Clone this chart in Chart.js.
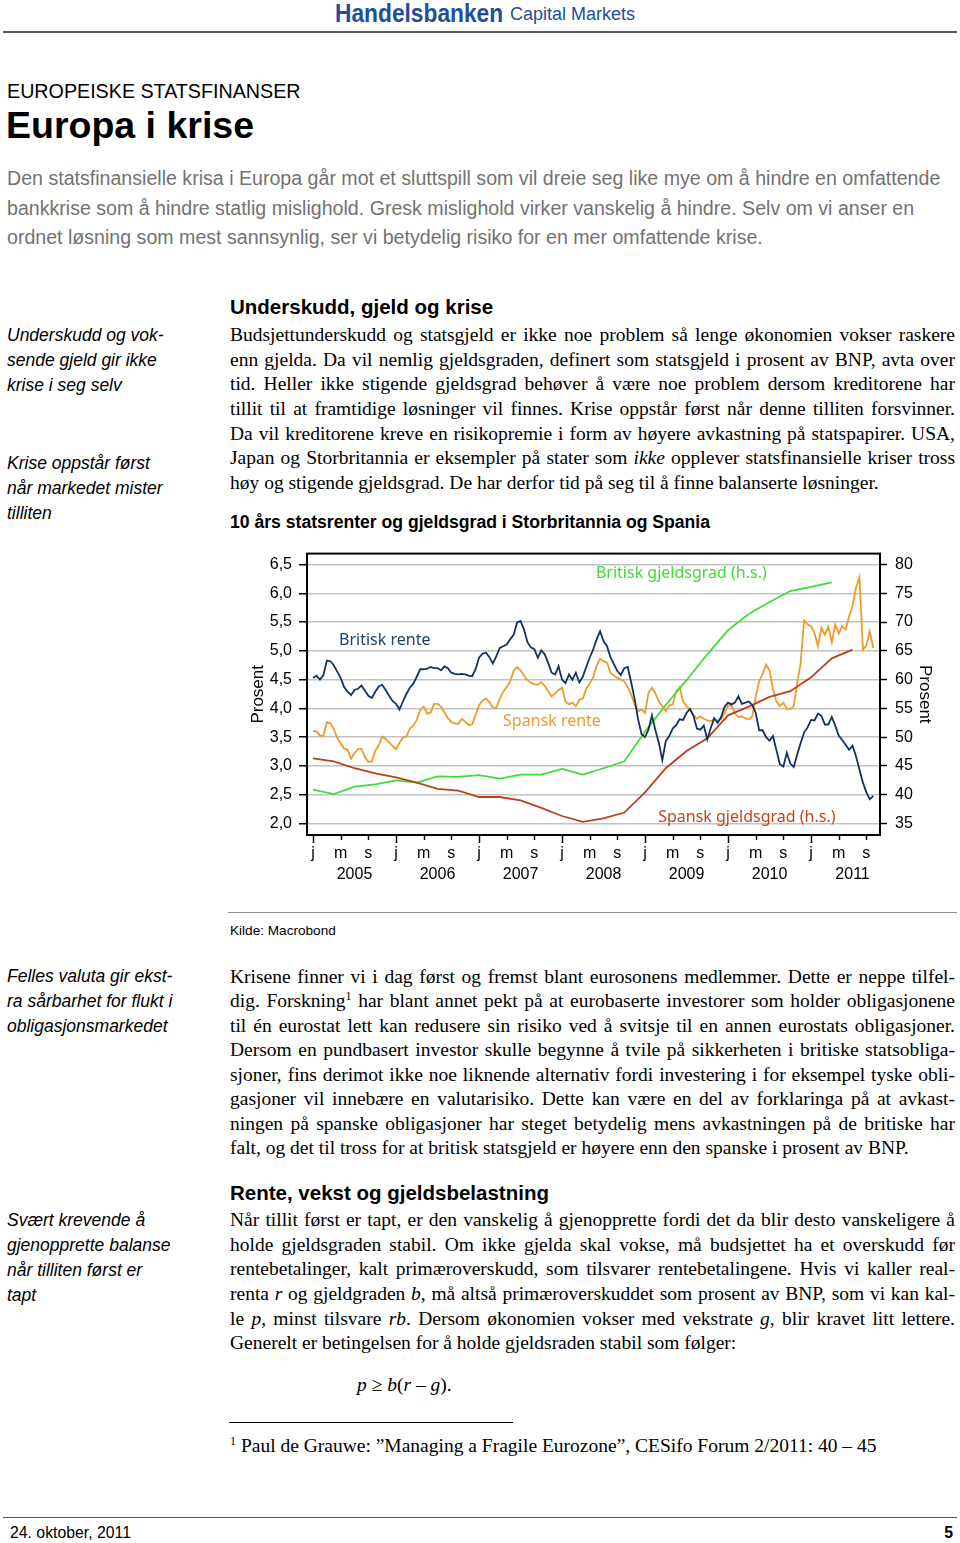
<!DOCTYPE html>
<html lang="no">
<head>
<meta charset="utf-8">
<title>Europa i krise</title>
<script src="https://cdn.jsdelivr.net/npm/chart.js@4.4.1/dist/chart.umd.min.js"></script>
<style>
  body { margin: 0; background: #fff; }
  #side { position: relative; width: 960px; height: 1543px; overflow: hidden; font-family: Arial, "Liberation Sans", sans-serif; color: #000; }
  .t { position: absolute; white-space: nowrap; }
  .strek { position: absolute; height: 0; }
  .linje { position: absolute; left: 230px; width: 725px; white-space: nowrap; font-family: "Times New Roman", "Liberation Serif", serif; font-size: 19.5px; line-height: 24px; height: 24px; text-align: justify; text-align-last: justify; }
  .linje.sist { text-align-last: left; }
  .marg { position: absolute; left: 7px; font-style: italic; font-size: 17.5px; line-height: 25px; white-space: nowrap; }
  .overskrift { position: absolute; left: 230px; font-weight: bold; font-size: 20.5px; line-height: 24px; white-space: nowrap; }
  #grafboks { position: absolute; left: 236px; top: 536px; width: 714px; height: 355px; }
</style>
</head>
<body>
<div id="side">
  <div class="t" style="left:335px;top:0;line-height:26px;color:#1f4e99;font-weight:bold;font-size:25px;transform:scaleX(0.91);transform-origin:left center;">Handelsbanken</div>
  <div class="t" style="left:510px;top:1px;line-height:26px;color:#1f4e99;font-size:18px;">Capital Markets</div>
  <div class="strek" style="left:3px;width:954px;top:31px;border-top:2px solid #5a5a5a;"></div>

  <div class="t" style="left:7px;top:80px;font-size:19.7px;line-height:22px;">EUROPEISKE STATSFINANSER</div>
  <div class="t" style="left:6px;top:104px;font-size:37.5px;line-height:42px;font-weight:bold;">Europa i krise</div>
  <div class="t" style="left:7px;top:164px;font-size:19.6px;line-height:29.5px;color:#727272;">
    Den statsfinansielle krisa i Europa går mot et sluttspill som vil dreie seg like mye om å hindre en omfattende<br>
    bankkrise som å hindre statlig mislighold. Gresk mislighold virker vanskelig å hindre. Selv om vi anser en<br>
    ordnet løsning som mest sannsynlig, ser vi betydelig risiko for en mer omfattende krise.
  </div>

  <div class="marg" style="top:323px;">Underskudd og vok-<br>sende gjeld gir ikke<br>krise i seg selv</div>
  <div class="marg" style="top:451px;">Krise oppstår først<br>når markedet mister<br>tilliten</div>

  <div class="overskrift" style="top:295px;">Underskudd, gjeld og krise</div>
  <div class="linje" style="top:323px;">Budsjettunderskudd og statsgjeld er ikke noe problem så lenge økonomien vokser raskere</div>
  <div class="linje" style="top:348px;">enn gjelda. Da vil nemlig gjeldsgraden, definert som statsgjeld i prosent av BNP, avta over</div>
  <div class="linje" style="top:372px;">tid. Heller ikke stigende gjeldsgrad behøver å være noe problem dersom kreditorene har</div>
  <div class="linje" style="top:397px;">tillit til at framtidige løsninger vil finnes. Krise oppstår først når denne tilliten forsvinner.</div>
  <div class="linje" style="top:422px;">Da vil kreditorene kreve en risikopremie i form av høyere avkastning på statspapirer. USA,</div>
  <div class="linje" style="top:446px;">Japan og Storbritannia er eksempler på stater som <i>ikke</i> opplever statsfinansielle kriser tross</div>
  <div class="linje sist" style="top:471px;">høy og stigende gjeldsgrad. De har derfor tid på seg til å finne balanserte løsninger.</div>

  <div class="t" style="left:230px;top:512px;font-size:17.6px;line-height:20px;font-weight:bold;">10 års statsrenter og gjeldsgrad i Storbritannia og Spania</div>

  <div id="grafboks"><canvas id="graf"></canvas></div>

  <div class="strek" style="left:228px;width:729px;top:912px;border-top:1px solid #8c8c8c;"></div>
  <div class="t" style="left:230px;top:923px;font-size:13.6px;line-height:16px;">Kilde: Macrobond</div>

  <div class="marg" style="top:964px;">Felles valuta gir ekst-<br>ra sårbarhet for flukt i<br>obligasjonsmarkedet</div>
  <div class="linje" style="top:965px;">Krisene finner vi i dag først og fremst blant eurosonens medlemmer. Dette er neppe tilfel-</div>
  <div class="linje" style="top:989px;">dig. Forskning<sup style="font-size:12px;line-height:0;">1</sup> har blant annet pekt på at eurobaserte investorer som holder obligasjonene</div>
  <div class="linje" style="top:1014px;">til én eurostat lett kan redusere sin risiko ved å svitsje til en annen eurostats obligasjoner.</div>
  <div class="linje" style="top:1038px;">Dersom en pundbasert investor skulle begynne å tvile på sikkerheten i britiske statsobliga-</div>
  <div class="linje" style="top:1063px;">sjoner, fins derimot ikke noe liknende alternativ fordi investering i for eksempel tyske obli-</div>
  <div class="linje" style="top:1087px;">gasjoner vil innebære en valutarisiko. Dette kan være en del av forklaringa på at avkast-</div>
  <div class="linje" style="top:1112px;">ningen på spanske obligasjoner har steget betydelig mens avkastningen på de britiske har</div>
  <div class="linje sist" style="top:1136px;">falt, og det til tross for at britisk statsgjeld er høyere enn den spanske i prosent av BNP.</div>

  <div class="overskrift" style="top:1181px;">Rente, vekst og gjeldsbelastning</div>
  <div class="marg" style="top:1208px;">Svært krevende å<br>gjenopprette balanse<br>når tilliten først er<br>tapt</div>
  <div class="linje" style="top:1208px;">Når tillit først er tapt, er den vanskelig å gjenopprette fordi det da blir desto vanskeligere å</div>
  <div class="linje" style="top:1233px;">holde gjeldsgraden stabil. Om ikke gjelda skal vokse, må budsjettet ha et overskudd før</div>
  <div class="linje" style="top:1257px;">rentebetalinger, kalt primæroverskudd, som tilsvarer rentebetalingene. Hvis vi kaller real-</div>
  <div class="linje" style="top:1282px;">renta <i>r</i> og gjeldgraden <i>b</i>, må altså primæroverskuddet som prosent av BNP, som vi kan kal-</div>
  <div class="linje" style="top:1307px;">le <i>p</i>, minst tilsvare <i>rb</i>. Dersom økonomien vokser med vekstrate <i>g</i>, blir kravet litt lettere.</div>
  <div class="linje sist" style="top:1331px;">Generelt er betingelsen for å holde gjeldsraden stabil som følger:</div>

  <div class="t" style="left:357px;top:1373px;font-family:'Times New Roman','Liberation Serif',serif;font-size:19.5px;line-height:24px;"><i>p</i> ≥ <i>b</i>(<i>r</i> – <i>g</i>).</div>

  <div class="strek" style="left:229px;width:284px;top:1422px;border-top:1px solid #000;"></div>
  <div class="t" style="left:230px;top:1434px;font-family:'Times New Roman','Liberation Serif',serif;font-size:19.5px;line-height:24px;"><sup style="font-size:12px;line-height:0;">1</sup> Paul de Grauwe: ”Managing a Fragile Eurozone”, CESifo Forum 2/2011: 40 – 45</div>

  <div class="strek" style="left:3px;width:954px;top:1517px;border-top:1px solid #555;"></div>
  <div class="t" style="left:10px;top:1524px;font-size:15.8px;line-height:18px;">24. oktober, 2011</div>
  <div class="t" style="left:900px;width:53px;text-align:right;top:1524px;font-size:15.8px;line-height:18px;font-weight:bold;">5</div>
</div>

<script>
// Rentene: halvmånedlige avlesninger fra januar 2005 (måned 0) til oktober 2011
const renteSteg = 0.5;
const britiskRente = [
  4.53, 4.57, 4.50, 4.58, 4.83, 4.82, 4.75, 4.64, 4.53, 4.37, 4.29, 4.23, 4.32, 4.34, 4.40, 4.31, 4.22, 4.18, 4.29, 4.38, 4.41, 4.32, 4.22, 4.13,
  4.08, 3.98, 4.12, 4.25, 4.36, 4.43, 4.55, 4.68, 4.68, 4.69, 4.72, 4.70, 4.70, 4.66, 4.73, 4.70, 4.62, 4.60, 4.59, 4.60, 4.59, 4.57, 4.56, 4.68,
  4.88, 4.95, 4.97, 4.89, 4.78, 4.91, 5.05, 5.08, 5.11, 5.20, 5.28, 5.49, 5.52, 5.37, 5.15, 5.06, 5.03, 4.88, 5.01, 4.94, 4.79, 4.62, 4.59, 4.73,
  4.50, 4.44, 4.59, 4.50, 4.62, 4.45, 4.55, 4.72, 4.88, 5.02, 5.20, 5.34, 5.17, 5.08, 4.89, 4.77, 4.65, 4.58, 4.70, 4.72, 4.45, 4.16, 3.81, 3.55,
  3.50, 3.63, 3.88, 3.62, 3.40, 3.10, 3.43, 3.52, 3.65, 3.71, 3.81, 3.80, 3.92, 3.99, 3.87, 3.65, 3.63, 3.70, 3.46, 3.66, 3.83, 3.75, 3.85, 4.03,
  4.10, 4.07, 4.10, 4.21, 4.08, 4.10, 4.12, 4.06, 3.92, 3.62, 3.62, 3.50, 3.44, 3.52, 3.27, 3.03, 2.99, 3.23, 3.04, 2.98, 3.20, 3.40, 3.58, 3.67,
  3.80, 3.79, 3.91, 3.87, 3.72, 3.72, 3.85, 3.70, 3.53, 3.45, 3.37, 3.28, 3.35, 3.17, 2.94, 2.71, 2.54, 2.42, 2.48
];
const spanskRente = [
  3.61, 3.60, 3.53, 3.52, 3.76, 3.74, 3.64, 3.49, 3.39, 3.30, 3.28, 3.13, 3.22, 3.29, 3.30, 3.16, 3.07, 3.08, 3.26, 3.36, 3.51, 3.47, 3.41, 3.35,
  3.29, 3.40, 3.49, 3.51, 3.65, 3.70, 3.80, 3.97, 4.03, 3.91, 3.93, 4.08, 4.08, 4.03, 3.93, 3.83, 3.76, 3.74, 3.73, 3.82, 3.77, 3.71, 3.72, 3.89,
  4.05, 4.14, 4.17, 4.11, 4.01, 4.01, 4.17, 4.29, 4.37, 4.47, 4.65, 4.72, 4.66, 4.57, 4.49, 4.45, 4.42, 4.41, 4.46, 4.39, 4.30, 4.21, 4.26, 4.32,
  4.36, 4.12, 4.07, 4.10, 4.04, 4.15, 4.17, 4.34, 4.43, 4.54, 4.74, 4.86, 4.82, 4.80, 4.62, 4.57, 4.53, 4.50, 4.47, 4.37, 4.24, 4.07, 3.95, 3.98,
  3.92, 4.27, 4.36, 4.26, 4.12, 4.04, 3.95, 4.05, 4.07, 4.30, 4.37, 4.12, 4.04, 3.98, 3.89, 3.82, 3.86, 3.82, 3.79, 3.78, 3.81, 3.78, 3.81, 3.92,
  4.05, 4.05, 3.91, 3.85, 3.86, 3.83, 3.81, 3.86, 4.21, 4.47, 4.60, 4.76, 4.66, 4.33, 4.12, 4.04, 4.10, 3.99, 3.99, 4.04, 4.44, 4.79, 5.53, 5.46,
  5.43, 5.31, 5.08, 5.40, 5.28, 5.42, 5.15, 5.46, 5.30, 5.43, 5.37, 5.60, 5.78, 6.10, 6.28, 5.02, 5.09, 5.34, 5.05
];

// Gjeldsgrad (h.s.), kvartalsvis, prosent av BNP
const gjeldMnd = [0, 3, 6, 9, 12, 15, 18, 21, 24, 27, 30, 33, 36, 39, 42, 45, 48, 51, 54, 57, 60, 63, 66, 69, 72, 75, 78];
const britiskGjeld = [40.9, 40.1, 41.4, 41.8, 42.5, 42.1, 43.2, 43.1, 43.4, 42.8, 43.5, 43.5, 44.5, 43.5, 44.6, 45.8, 51.0, 55.6, 59.9, 64.4, 68.6, 71.4, 73.5, 75.4, 76.1, 76.9];
const spanskGjeld = [46.3, 45.8, 44.6, 43.7, 43.0, 42.1, 41.0, 40.7, 39.6, 39.6, 39.0, 37.7, 36.3, 35.3, 35.9, 36.9, 40.4, 44.6, 47.6, 49.8, 53.8, 55.3, 57.0, 58.0, 60.4, 63.7, 65.2];

// akser
const venstreTicks = [2.0, 2.5, 3.0, 3.5, 4.0, 4.5, 5.0, 5.5, 6.0, 6.5];
const hoyreTicks = [35, 40, 45, 50, 55, 60, 65, 70, 75, 80];
const xTickMnd = [0, 4, 8, 12, 16, 20, 24, 28, 32, 36, 40, 44, 48, 52, 56, 60, 64, 68, 72, 76, 80];
const xTickBokstav = ['j', 'm', 's'];
const aarMnd = [6, 18, 30, 42, 54, 66, 78];
const aarTekst = ['2005', '2006', '2007', '2008', '2009', '2010', '2011'];

const navy = '#12335e';
const oransje = '#ee9b2a';
const gronn = '#3ddd3a';
const rod = '#b9411c';

const etiketter = [
  { tekst: 'Britisk rente', x: 3.76, y: 5.18, akse: 'y', farge: '#1f3f6e' },
  { tekst: 'Spansk rente', x: 27.47, y: 3.77, akse: 'y', farge: '#e99b33' },
  { tekst: 'Britisk gjeldsgrad (h.s.)', x: 40.9, y: 78.5, akse: 'y2', farge: '#3fdb3c' },
  { tekst: 'Spansk gjeldsgrad (h.s.)', x: 49.9, y: 36.0, akse: 'y2', farge: '#c0461f' }
];

const grafFont = '"Noto Sans", "Open Sans", sans-serif';

const rammePlugin = {
  id: 'ramme',
  afterDatasetsDraw(chart) {
    const c = chart.ctx;
    const a = chart.chartArea;
    const xs = chart.scales.x;
    c.save();
    c.strokeStyle = '#000';
    c.lineWidth = 2;
    c.strokeRect(a.left, a.top, a.right - a.left, a.bottom - a.top);
    // små tikkmerker under x-aksen, lengre ved årsskifte
    c.lineWidth = 1.5;
    xTickMnd.forEach(function(m) {
      const px = Math.round(xs.getPixelForValue(m)) + 0.5;
      const len = m % 12 === 0 ? 8 : 5;
      c.beginPath();
      c.moveTo(px, a.bottom);
      c.lineTo(px, a.bottom + len);
      c.stroke();
    });
    c.font = '16px ' + grafFont;
    c.textAlign = 'left';
    c.textBaseline = 'middle';
    etiketter.forEach(function(e) {
      c.fillStyle = e.farge;
      c.fillText(e.tekst, xs.getPixelForValue(e.x), chart.scales[e.akse].getPixelForValue(e.y));
    });
    c.restore();
  }
};

const ctx = document.getElementById('graf').getContext('2d');
new Chart(ctx, {
  type: 'line',
  data: {
    datasets: [
      {
        label: 'Britisk rente',
        data: britiskRente.map((v, i) => ({ x: i * renteSteg, y: v })),
        yAxisID: 'y',
        borderColor: navy,
        borderWidth: 1.8
      },
      {
        label: 'Spansk gjeldsgrad (h.s.)',
        data: spanskGjeld.map((v, i) => ({ x: gjeldMnd[i], y: v })),
        yAxisID: 'y2',
        borderColor: rod,
        borderWidth: 1.8
      },
      {
        label: 'Britisk gjeldsgrad (h.s.)',
        data: britiskGjeld.map((v, i) => ({ x: gjeldMnd[i], y: v })),
        yAxisID: 'y2',
        borderColor: gronn,
        borderWidth: 1.8
      },
      {
        label: 'Spansk rente',
        data: spanskRente.map((v, i) => ({ x: i * renteSteg, y: v })),
        yAxisID: 'y',
        borderColor: oransje,
        borderWidth: 1.8
      }
    ]
  },
  options: {
    responsive: true,
    maintainAspectRatio: false,
    animation: false,
    devicePixelRatio: 1,
    layout: { padding: { top: 10, left: 0, right: 0, bottom: 0 } },
    elements: { point: { radius: 0 }, line: { tension: 0 } },
    plugins: { legend: { display: false }, tooltip: { enabled: false } },
    scales: {
      x: {
        type: 'linear',
        position: 'bottom',
        min: -0.87,
        max: 81.97,
        weight: 0,
        afterBuildTicks: (s) => { s.ticks = xTickMnd.map(v => ({ value: v })); },
        afterFit: (s) => { s.height = 26; },
        grid: { display: false, drawTicks: false },
        border: { display: false },
        ticks: {
          autoSkip: false,
          maxRotation: 0,
          padding: 9,
          color: '#000',
          font: { family: 'Arial', size: 16 },
          callback: (v) => xTickBokstav[(v / 4) % 3]
        }
      },
      xAar: {
        type: 'linear',
        position: 'bottom',
        min: -0.87,
        max: 81.97,
        weight: 1,
        afterBuildTicks: (s) => { s.ticks = aarMnd.map(v => ({ value: v })); },
        afterFit: (s) => { s.height = 30; },
        grid: { display: false, drawTicks: false },
        border: { display: false },
        ticks: {
          autoSkip: false,
          maxRotation: 0,
          padding: 4,
          color: '#000',
          font: { family: 'Arial', size: 16 },
          callback: (v) => aarTekst[aarMnd.indexOf(v)]
        }
      },
      y: {
        position: 'left',
        min: 1.80,
        max: 6.69,
        afterBuildTicks: (s) => { s.ticks = venstreTicks.map(v => ({ value: v })); },
        afterFit: (s) => { s.width = 71; },
        grid: { color: '#c2c2c2', lineWidth: 1.5, tickColor: '#000', tickLength: 8, tickWidth: 1.5 },
        border: { display: false },
        ticks: {
          padding: 7,
          color: '#000',
          font: { family: 'Arial', size: 16 },
          callback: (v) => v.toFixed(1).replace('.', ',')
        },
        title: { display: true, text: 'Prosent', color: '#000', font: { family: 'Arial', size: 17 }, padding: { top: 12, bottom: 0 } }
      },
      y2: {
        position: 'right',
        min: 33.0,
        max: 81.9,
        afterBuildTicks: (s) => { s.ticks = hoyreTicks.map(v => ({ value: v })); },
        afterFit: (s) => { s.width = 70; },
        grid: { drawOnChartArea: false, tickColor: '#000', tickLength: 7, tickWidth: 1.5 },
        border: { display: false },
        ticks: {
          padding: 8,
          color: '#000',
          font: { family: 'Arial', size: 16 },
          callback: (v) => String(v)
        },
        title: { display: true, text: 'Prosent', color: '#000', font: { family: 'Arial', size: 17 }, padding: { top: 15, bottom: 0 } }
      }
    }
  },
  plugins: [rammePlugin]
});
</script>
</body>
</html>
